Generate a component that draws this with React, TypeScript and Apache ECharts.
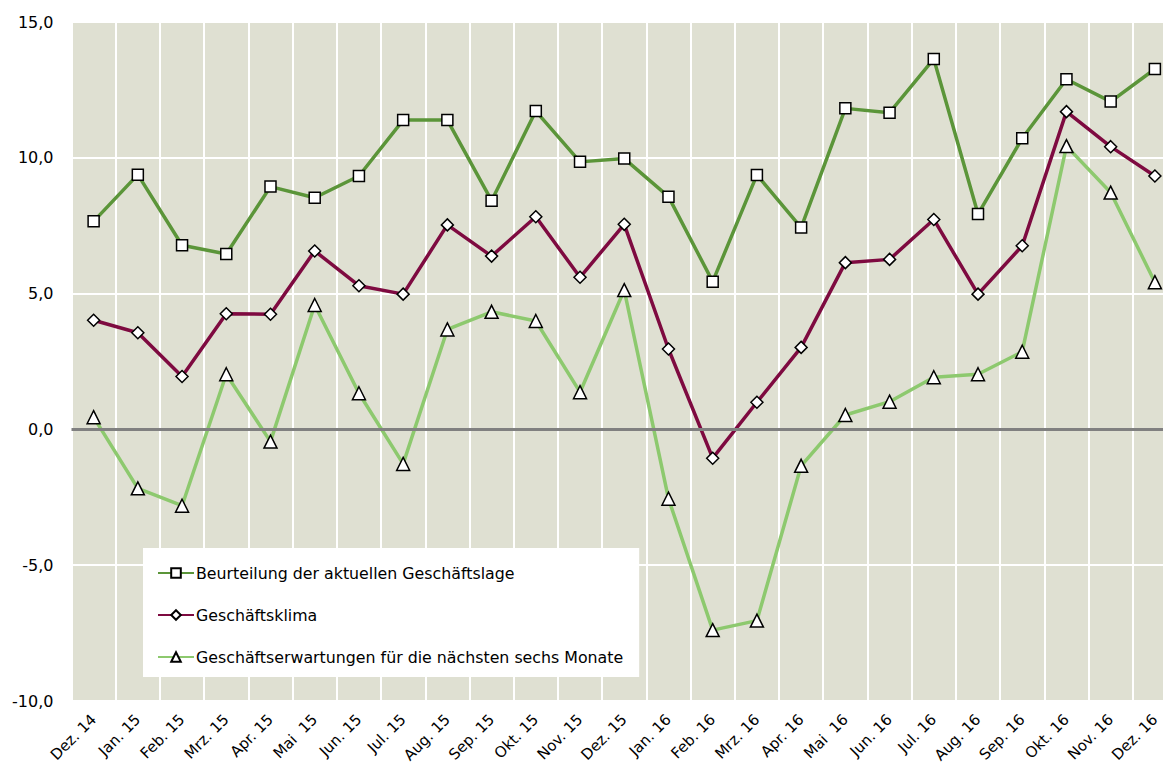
import React, { useEffect, useRef } from "react";
import * as echarts from "echarts";

const categories = [
  "Dez. 14", "Jan. 15", "Feb. 15", "Mrz. 15", "Apr. 15", "Mai  15", "Jun. 15", "Jul. 15",
  "Aug. 15", "Sep. 15", "Okt. 15", "Nov. 15", "Dez. 15", "Jan. 16", "Feb. 16", "Mrz. 16",
  "Apr. 16", "Mai  16", "Jun. 16", "Jul. 16", "Aug. 16", "Sep. 16", "Okt. 16", "Nov. 16", "Dez. 16",
];

const beurteilung = [
  7.66, 9.38, 6.78, 6.46, 8.94, 8.53, 9.33, 11.39, 11.39, 8.42, 11.72, 9.85, 9.97,
  8.57, 5.44, 9.37, 7.43, 11.82, 11.66, 13.64, 7.93, 10.72, 12.89, 12.07, 13.27,
];

const klima = [
  4.02, 3.56, 1.95, 4.26, 4.24, 6.57, 5.29, 4.98, 7.53, 6.38, 7.83, 5.6, 7.55,
  2.96, -1.06, 1.0, 3.02, 6.14, 6.26, 7.73, 4.98, 6.76, 11.7, 10.41, 9.33,
];

const erwartungen = [
  0.45, -2.17, -2.81, 2.03, -0.45, 4.58, 1.33, -1.27, 3.68, 4.33, 3.99, 1.37, 5.13,
  -2.55, -7.39, -7.04, -1.34, 0.53, 1.02, 1.92, 2.03, 2.86, 10.43, 8.72, 5.42,
];

const seriesNames = [
  "Beurteilung der aktuellen Geschäftslage",
  "Geschäftsklima",
  "Geschäftserwartungen für die nächsten sechs Monate",
];

const FONT = "DejaVu Sans";

export default function App() {
  const ref = useRef<HTMLDivElement>(null);
  useEffect(() => {
    if (!ref.current) return;
    const chart = echarts.init(ref.current, null, { renderer: "svg" });
    const markerStyle = { color: "#ffffff", borderColor: "#000000", borderWidth: 1.5 };
    chart.setOption({
      animation: false,
      backgroundColor: "#ffffff",
      textStyle: { fontFamily: FONT },
      grid: {
        left: 71.5,
        right: 0,
        top: 22,
        bottom: 68,
        containLabel: false,
        outerBoundsMode: "none",
        show: true,
        backgroundColor: "#DFE0D2",
        borderWidth: 0,
      },
      legend: {
        orient: "vertical",
        left: 143,
        top: 548,
        width: 497,
        backgroundColor: "#ffffff",
        padding: [17, 16, 12, 14],
        itemGap: 26,
        itemWidth: 36,
        itemHeight: 12,
        textStyle: { fontFamily: FONT, fontSize: 15.8, color: "#000000", padding: [0, 0, 0, -3] },
        data: seriesNames,
      },
      xAxis: {
        type: "category",
        data: categories,
        boundaryGap: true,
        axisLine: { show: false, onZero: false },
        axisTick: { show: false },
        splitLine: { show: true, lineStyle: { color: "#ffffff", width: 2 } },
        axisLabel: {
          rotate: 45,
          margin: 16,
          interval: 0,
          fontFamily: FONT,
          fontSize: 15,
          color: "#000000",
        },
      },
      yAxis: {
        type: "value",
        min: -10,
        max: 15,
        interval: 5,
        axisLine: { show: false },
        axisTick: { show: false },
        splitLine: { show: true, lineStyle: { color: "#ffffff", width: 2 } },
        axisLabel: {
          margin: 18,
          fontFamily: FONT,
          fontSize: 16,
          color: "#000000",
          formatter: (v: number) => v.toFixed(1).replace(".", ","),
        },
      },
      series: [
        {
          name: "zero",
          type: "line",
          data: [],
          z: 1,
          silent: true,
          markLine: {
            silent: true,
            symbol: "none",
            label: { show: false },
            lineStyle: { color: "#808080", width: 3, type: "solid" },
            data: [{ yAxis: 0 }],
          },
        },
        {
          name: seriesNames[0],
          type: "line",
          data: beurteilung,
          z: 3,
          symbol: "rect",
          symbolSize: 11,
          showAllSymbol: true,
          lineStyle: { color: "#5B9539", width: 3.5 },
          itemStyle: markerStyle,
          color: "#5B9539",
        },
        {
          name: seriesNames[1],
          type: "line",
          data: klima,
          z: 4,
          symbol: "diamond",
          symbolSize: 12,
          showAllSymbol: true,
          lineStyle: { color: "#7E0A40", width: 3.5 },
          itemStyle: markerStyle,
          color: "#7E0A40",
        },
        {
          name: seriesNames[2],
          type: "line",
          data: erwartungen,
          z: 2,
          symbol: "triangle",
          symbolSize: 13,
          showAllSymbol: true,
          lineStyle: { color: "#8DC96E", width: 3.5 },
          itemStyle: markerStyle,
          color: "#8DC96E",
        },
      ],
    });
    return () => chart.dispose();
  }, []);
  return (
    <div
      ref={ref}
      style={{ position: "fixed", left: 0, top: 0, width: 1177, height: 769 }}
    />
  );
}
